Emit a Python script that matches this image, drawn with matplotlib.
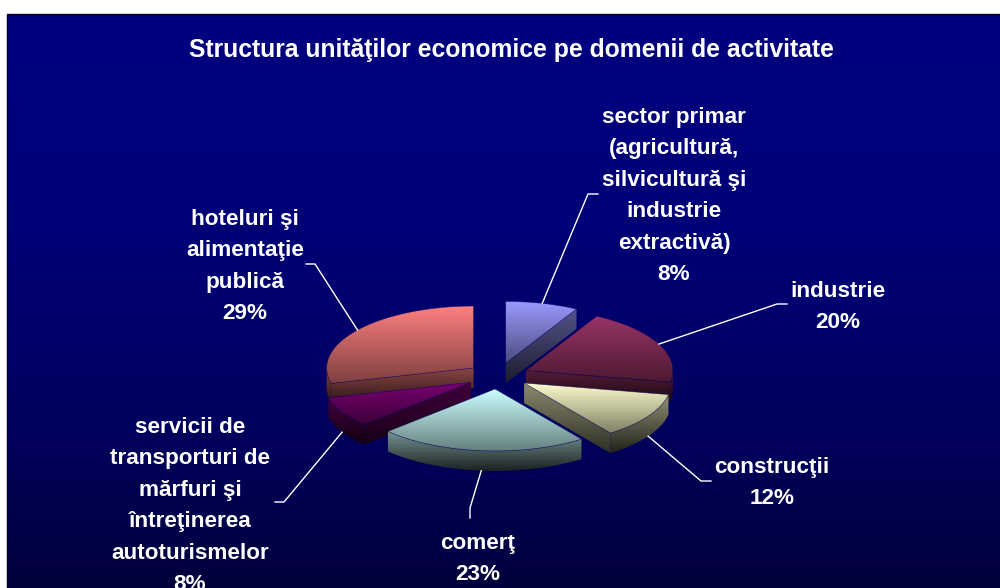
import numpy as np
import matplotlib
matplotlib.use("Agg")
import matplotlib.pyplot as plt
from matplotlib.patches import Polygon
from matplotlib.colors import to_rgb

title = "Structura unităţilor economice pe domenii de activitate"
names = ["sector primar\n(agricultură,\nsilvicultură şi\nindustrie\nextractivă)",
         "industrie",
         "construcţii",
         "comerţ",
         "servicii de\ntransporturi de\nmărfuri şi\nîntreţinerea\nautoturismelor",
         "hoteluri şi\nalimentaţie\npublică"]
values = [8, 20, 12, 23, 8, 29]
colors = ["#9999FF", "#993366", "#FFFFCC", "#CCFFFF", "#780070", "#FF8080"]

# layout, in pixels of the picture
cx, cy = 498, 376
rx, ry = 147, 62
depth = 20
explode = 0.21
label_x = [674, 838, 772, 478, 190, 245]
label_y = [117.5, 291.5, 467.5, 543.5, 427.5, 219.5]   # centre of the first line
leader_ends = [[(588, 194), (598, 194)], [(777, 304), (787, 304)], [(701, 481), (711, 481)],
               [(470, 508), (470, 518)], [(284, 502), (275, 502)], [(315, 264), (306, 264)]]
line_gap = 31.4
font = "Liberation Sans"

fig = plt.figure(figsize=(10, 5.88), dpi=100, facecolor="white")
ax = fig.add_axes([0, 0, 1, 1])
ax.axis("off")


def gradient(patch, color, f_top, f_bottom, top=None, bottom=None):
    # vertical shade, clipped to the patch
    xy = patch.get_xy()
    top = xy[:, 1].min() if top is None else top
    bottom = xy[:, 1].max() if bottom is None else bottom
    shade = np.linspace(f_top, f_bottom, 256)[:, None, None]
    img = shade * np.array(to_rgb(color))[None, None, :]
    im = ax.imshow(img, extent=[xy[:, 0].min() - 1, xy[:, 0].max() + 1, bottom, top],
                   aspect="auto", interpolation="bilinear", zorder=3)
    patch.set_facecolor("none")
    patch.set_edgecolor("none")
    ax.add_patch(patch)
    im.set_clip_path(patch)


def point(ox, oy, deg):
    t = np.radians(deg)
    return ox + rx * np.sin(t), oy - ry * np.cos(t)


# background
back_y = [14, 250, 440, 588]
back_c = [128, 118, 92, 60]
ys = np.arange(14, 588)
back = np.zeros((len(ys), 1, 3))
back[:, 0, 2] = np.interp(ys, back_y, back_c) / 255
ax.imshow(back, extent=[7, 1000, 588, 14], aspect="auto", zorder=1)
ax.plot([7, 7, 1000], [588, 14, 14], color="#000020", lw=1, zorder=2)

# slices
pct = np.array(values) / sum(values) * 100
edges = np.concatenate([[0], np.cumsum(pct) * 3.6])
slices = []
for i in range(len(values)):
    a1, a2 = edges[i], edges[i + 1]
    mid = (a1 + a2) / 2
    ox = cx + explode * rx * np.sin(np.radians(mid))
    oy = cy - explode * ry * np.cos(np.radians(mid))
    slices.append((i, a1, a2, mid, ox, oy))

for i, a1, a2, mid, ox, oy in [slices[k] for k in [5, 0, 1, 4, 2, 3]]:
    col = colors[i]
    arc = np.linspace(a1, a2, 60)
    arc_pts = np.array([point(ox, oy, d) for d in arc])
    top_pts = np.vstack([[ox, oy], arc_pts])

    # cut faces that look towards the viewer
    for edge, seen in [(a1, np.sin(np.radians(a1)) < 0), (a2, np.sin(np.radians(a2)) > 0)]:
        if seen:
            x1, y1 = point(ox, oy, edge)
            face = np.array([[ox, oy], [x1, y1], [x1, y1 + depth], [ox, oy + depth]])
            gradient(Polygon(face), col, 0.55, 0.18)
    # outer rim
    r1, r2 = max(a1, 90), min(a2, 270)
    if r1 < r2:
        rim = np.array([point(ox, oy, d) for d in np.linspace(r1, r2, 60)])
        rim_poly = np.vstack([rim, rim[::-1] + [0, depth]])
        gradient(Polygon(rim_poly), col, 0.58, 0.13)
    gradient(Polygon(top_pts), col, 1.0, 0.5)
    ax.add_patch(Polygon(top_pts, fill=False, edgecolor="#000060", lw=0.5, alpha=0.6, zorder=4))

    # leader line, from the outer edge at the middle of the slice
    lx, ly = point(ox, oy, mid)
    if 90 < mid < 270:
        ly += depth
    ends = leader_ends[i]
    ax.plot([lx] + [p[0] for p in ends], [ly] + [p[1] for p in ends], color="white", lw=1.0, zorder=5)

# labels
for i, name in enumerate(names):
    lines = name.split("\n") + [f"{values[i]}%"]
    for k, line in enumerate(lines):
        ax.text(label_x[i], label_y[i] + k * line_gap, line, color="white", fontsize=16.2,
                fontweight="bold", family=font, ha="center", va="center", zorder=6, clip_on=True)

ax.text(511, 50, title, color="white", fontsize=17.8, fontweight="bold", family=font,
        ha="center", va="center", zorder=6)

ax.set_xlim(0, 1000)
ax.set_ylim(588, 0)
fig.savefig("out.png", dpi=100, facecolor="white")
